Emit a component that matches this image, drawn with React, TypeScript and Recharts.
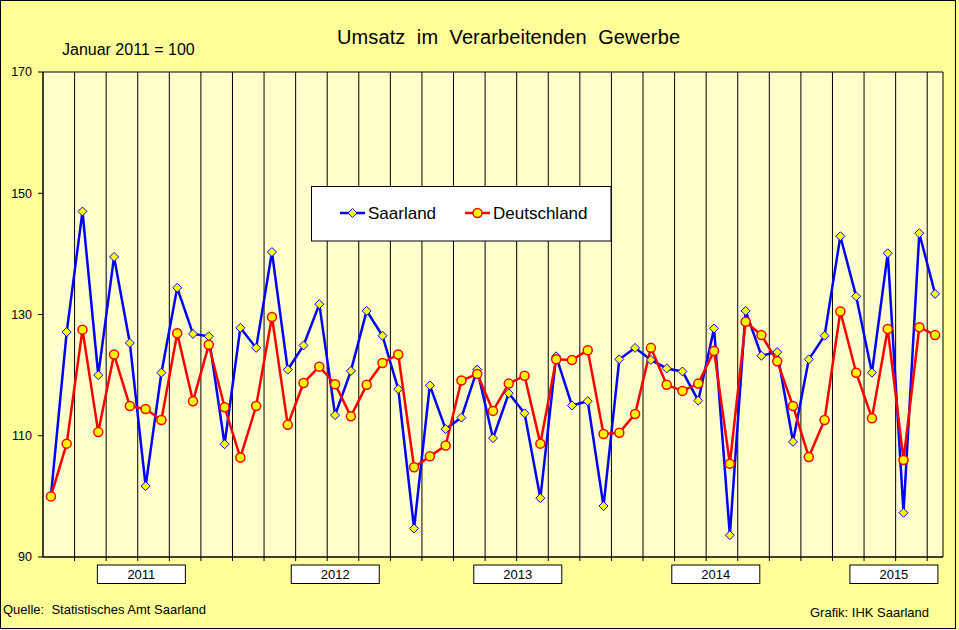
import React from 'react';
import { LineChart, Line, XAxis, YAxis, ReferenceLine, ReferenceArea } from 'recharts';

const FONT = '"Liberation Sans", Arial, sans-serif';

const monthNames = ['Jan', 'Feb', 'Mär', 'Apr', 'Mai', 'Jun', 'Jul', 'Aug', 'Sep', 'Okt', 'Nov', 'Dez'];
const years = [2011, 2012, 2013, 2014, 2015];
const months: string[] = years.flatMap((y) => monthNames.map((m) => `${m} ${y}`)).slice(0, 57);

const saarland = [
  100, 127.1, 147.0, 120.0, 139.5, 125.3, 101.7, 120.4, 134.4, 126.8, 126.4, 108.6,
  127.8, 124.5, 140.3, 120.9, 124.9, 131.7, 113.4, 120.7, 130.6, 126.5, 117.7, 94.7,
  118.3, 111.1, 113.0, 120.9, 109.6, 117.0, 113.7, 99.7, 123.1, 115.0, 115.7, 98.4,
  122.6, 124.5, 122.5, 121.1, 120.6, 115.8, 127.7, 93.6, 130.6, 123.2, 123.8, 109.0,
  122.6, 126.5, 142.9, 133.0, 120.4, 140.1, 97.3, 143.4, 133.4,
];

const deutschland = [
  100, 108.7, 127.5, 110.6, 123.4, 114.9, 114.4, 112.6, 126.9, 115.7, 125.0, 114.7,
  106.4, 114.9, 129.6, 111.8, 118.7, 121.4, 118.5, 113.2, 118.4, 122.0, 123.4, 104.8,
  106.6, 108.4, 119.1, 120.2, 114.1, 118.6, 119.9, 108.7, 122.6, 122.5, 124.1, 110.3,
  110.5, 113.6, 124.5, 118.4, 117.4, 118.6, 124.0, 105.4, 128.8, 126.6, 122.3, 114.9,
  106.5, 112.6, 130.5, 120.4, 112.9, 127.6, 106.0, 127.9, 126.6,
];

const yearLabels = ['2011', '2012', '2013', '2014', '2015'];
const yearLabelPos = [5.73, 18.01, 29.57, 42.11, 53.39];
const yTicks = [90, 110, 130, 150, 170];

const data = months.map((m, i) => ({ i, month: m, saar: saarland[i], de: deutschland[i] }));
const boundaries: number[] = [];
for (let b = 1.5; b < months.length - 0.5; b += 2) boundaries.push(b);

const DiamondDot = (props: any) => {
  const { cx, cy, index } = props;
  if (cx == null || cy == null) return null;
  const s = 4.5;
  return (
    <polygon
      key={`d-${index}`}
      points={`${cx},${cy - s} ${cx + s},${cy} ${cx},${cy + s} ${cx - s},${cy}`}
      fill="#FFFF00"
      stroke="#0000FF"
      strokeWidth={1}
    />
  );
};

const CircleDot = (props: any) => {
  const { cx, cy, index } = props;
  if (cx == null || cy == null) return null;
  return <circle key={`c-${index}`} cx={cx} cy={cy} r={4.5} fill="#FFFF00" stroke="#FF0000" strokeWidth={1.5} />;
};

const XTick = (props: any) => {
  const { x, y, payload } = props;
  const idx = yearLabelPos.indexOf(payload.value);
  if (idx >= 0) {
    return (
      <g>
        <rect x={x - 44} y={y + 8} width={88} height={18.5} fill="#FFFFFF" stroke="#000" strokeWidth={1} />
        <text x={x} y={y + 22} textAnchor="middle" fontSize={13} fontFamily={FONT} fill="#000">
          {yearLabels[idx]}
        </text>
      </g>
    );
  }
  return <line x1={x} y1={y} x2={x} y2={y + 4} stroke="#000" strokeWidth={1} />;
};

export default function App() {
  return (
    <div style={{ position: 'absolute', left: 0, top: 0, width: 959, height: 630, background: '#FFFF99' }}>
      <LineChart width={959} height={630} data={data} margin={{ top: 72, right: 16, bottom: 0, left: 0 }}>
        <XAxis
          dataKey="i"
          type="number"
          domain={[-0.5, months.length - 0.5]}
          ticks={[...boundaries, ...yearLabelPos]}
          interval={0}
          height={73}
          tickSize={0}
          tickMargin={0}
          tickLine={false}
          axisLine={{ stroke: '#000' }}
          tick={<XTick />}
        />
        <YAxis
          type="number"
          domain={[90, 170]}
          ticks={yTicks}
          width={43}
          tickSize={5}
          tickMargin={6}
          axisLine={{ stroke: '#000' }}
          tickLine={{ stroke: '#000' }}
          tick={{ fill: '#000', fontSize: 12.5, fontFamily: FONT }}
        />
        <ReferenceArea
          x1={-0.5}
          x2={months.length - 0.5}
          y1={90}
          y2={170}
          fill="#FFFFCC"
          fillOpacity={1}
          stroke="#000"
          strokeWidth={1}
        />
        {boundaries.map((b) => (
          <ReferenceLine key={b} x={b} stroke="#000" strokeWidth={1} />
        ))}
        <Line
          type="linear"
          dataKey="saar"
          name="Saarland"
          stroke="#0000FF"
          strokeWidth={2.5}
          dot={<DiamondDot />}
          activeDot={false}
          isAnimationActive={false}
        />
        <Line
          type="linear"
          dataKey="de"
          name="Deutschland"
          stroke="#FF0000"
          strokeWidth={2.5}
          dot={<CircleDot />}
          activeDot={false}
          isAnimationActive={false}
        />
      </LineChart>
      <svg
        width={959}
        height={630}
        style={{ position: 'absolute', left: 0, top: 0, pointerEvents: 'none' }}
        fontFamily={FONT}
      >
        <rect x={0.5} y={0.5} width={955} height={628} fill="none" stroke="#000" strokeWidth={1} />
        <text x={337} y={43.5} fontSize={20} fill="#000" textLength={343} lengthAdjust="spacing" style={{ whiteSpace: 'pre' }}>
          {'Umsatz  im  Verarbeitenden  Gewerbe'}
        </text>
        <text x={62} y={55} fontSize={16} fill="#000">
          Januar 2011 = 100
        </text>
        <g>
          <rect x={311.5} y={186.5} width={299.5} height={54.5} fill="#FFFFFF" stroke="#000" strokeWidth={1} />
          <line x1={340} y1={213} x2={365} y2={213} stroke="#0000FF" strokeWidth={2.5} />
          <DiamondDot cx={352.5} cy={213} index={0} />
          <text x={368} y={219} fontSize={17} fill="#000">Saarland</text>
          <line x1={465} y1={213} x2={490} y2={213} stroke="#FF0000" strokeWidth={2.5} />
          <CircleDot cx={477.5} cy={213} index={0} />
          <text x={493} y={219} fontSize={17} fill="#000">Deutschland</text>
        </g>
        <text x={3} y={614} fontSize={13} fill="#000" style={{ whiteSpace: 'pre' }}>
          {'Quelle:  Statistisches Amt Saarland'}
        </text>
        <text x={810} y={617} fontSize={13} fill="#000" textLength={119} lengthAdjust="spacingAndGlyphs">
          Grafik: IHK Saarland
        </text>
      </svg>
    </div>
  );
}
